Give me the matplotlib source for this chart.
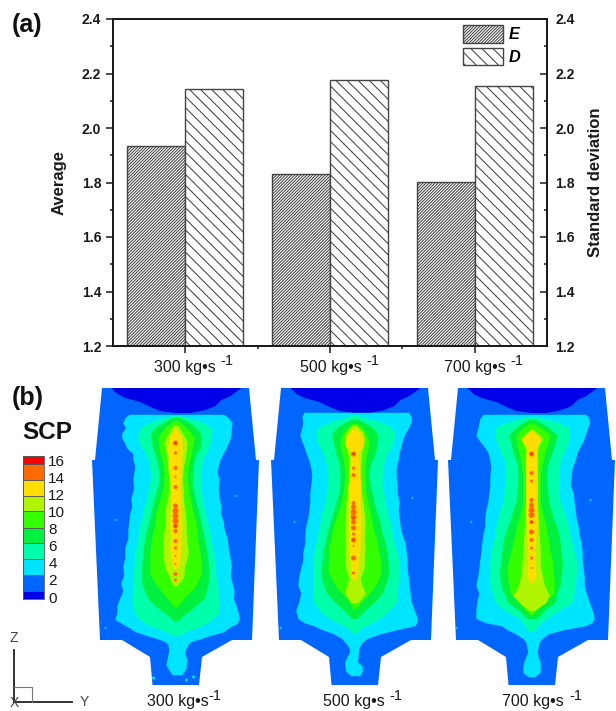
import matplotlib
matplotlib.use("Agg")
import numpy as np
import matplotlib.pyplot as plt

plt.rcParams['font.family'] = ['Liberation Sans', 'DejaVu Sans']
plt.rcParams['hatch.linewidth'] = 0.75
plt.rcParams['hatch.color'] = '#333333'

W, H = 616, 711
INK = '#1a1a1a'

# panel (a)
rate_names = ['300 kg•s', '500 kg•s', '700 kg•s']
E_vals = [1.935, 1.830, 1.802]
D_vals = [2.143, 2.175, 2.153]
y_ticks = [1.2, 1.4, 1.6, 1.8, 2.0, 2.2, 2.4]

# panel (b) colour scale
cbar_edges = [-0.23, 0.7, 2.57, 4.44, 6.3, 8.06, 10.05, 11.8, 13.67, 15.5, 16.47]
cbar_ticks = [0, 2, 4, 6, 8, 10, 12, 14, 16]
cbar_colors = ['#0000e6', '#0066ff', '#00e5ff', '#00ffaa', '#00f040',
               '#33ff00', '#b0f500', '#ffdd00', '#ff6a00', '#ff0000']

# vessel outline: offset from centre, depth from top (px of the picture)
shell_y = [-73.5, -80.5, -83.5, -75.5, -53.5, -25.5, -23, 23.5, 26.5, 56.5, 76.5, 83.5, 80.5, 73.5]
shell_z = [0, 72, 72, 252, 252, 269, 297, 297, 269, 252, 252, 72, 72, 0]

# low value cap at the top
cap_y = [-64, -58, -50, -35, -25, -15, 0, 15, 30, 40, 46, 55, 66]
cap_z = [0, 6, 10, 14, 19, 23, 25, 25, 22, 18, 12, 8, 0]

# contour bands, each row is depth, left half width, right half width
band_300 = {
    '#00e5ff': [(27, 46, 48), (30, 50, 52), (35, 52, 56), (40, 49, 55), (45, 53, 55), (50, 53, 54), (55, 50, 52),
                (60, 48, 50), (65, 42, 47), (71, 42, 44), (78, 40, 42), (85, 41, 41), (92, 42, 43), (100, 41, 42),
                (110, 44, 43), (118, 43, 45), (125, 45, 44), (133, 46, 47), (142, 47, 48), (150, 47, 51), (160, 50, 52),
                (170, 50, 54), (178, 52, 55), (187, 51, 54), (195, 54, 56), (203, 52, 58), (210, 55, 57), (218, 58, 60),
                (225, 58, 62), (231, 60, 63), (235, 53, 61), (239, 46, 53), (243, 40, 48), (247, 28, 34), (250, 18, 25),
                (253, 10, 15), (256, 7, 12), (262, 6, 9), (267, 7, 9), (272, 8, 11), (276, 9, 10), (280, 7, 10), (286, 3, 6)],
    '#00ffaa': [(28, 3, 3), (33, 20, 22), (37, 30, 31), (42, 36, 36), (48, 37, 35), (55, 36, 34), (62, 31, 31),
                (70, 27, 27), (80, 25, 25), (90, 24, 24), (100, 26, 25), (110, 28, 26), (120, 31, 28), (130, 33, 30),
                (140, 36, 33), (150, 37, 35), (160, 39, 36), (170, 40, 38), (180, 41, 39), (190, 42, 40), (200, 42, 42),
                (210, 43, 42), (218, 42, 43), (225, 40, 42), (230, 36, 37), (235, 30, 30), (239, 21, 21), (242, 12, 12), (247, 2, 2)],
    '#00f040': [(30, 3, 3), (35, 12, 14), (40, 20, 20), (45, 24, 24), (52, 24, 25), (60, 22, 24), (66, 20, 20),
                (72, 18, 18), (83, 16, 17), (95, 16, 16), (105, 19, 18), (115, 22, 20), (125, 24, 23), (135, 26, 25),
                (145, 29, 27), (155, 31, 29), (165, 32, 31), (175, 33, 32), (185, 33, 33), (195, 33, 32), (203, 30, 30),
                (210, 27, 28), (216, 21, 21), (222, 14, 14), (227, 7, 7), (232, 2, 2)],
    '#33ff00': [(33, 2, 2), (40, 10, 10), (45, 14, 15), (50, 17, 18), (57, 16, 17), (65, 15, 15), (75, 12, 13),
                (85, 11, 11), (95, 11, 12), (105, 13, 13), (115, 16, 15), (125, 19, 17), (135, 20, 20), (145, 22, 21),
                (155, 24, 22), (165, 25, 24), (175, 25, 25), (185, 25, 25), (193, 21, 22), (200, 16, 18), (206, 11, 11),
                (212, 6, 6), (218, 1, 1)],
    '#b0f500': [(38, 2, 2), (45, 6, 6), (50, 9, 9), (55, 11, 11), (62, 9, 10), (70, 8, 9), (80, 7, 7), (90, 6, 6),
                (100, 6, 7), (110, 7, 7), (118, 9, 8), (125, 10, 9), (135, 10, 10), (145, 11, 10), (155, 12, 11),
                (165, 12, 12), (173, 11, 10), (180, 10, 8), (185, 7, 8), (190, 5, 7), (197, 2, 1)],
    '#ffdd00': [(42, 1, 1), (50, 5, 5), (55, 6, 6), (60, 7, 6), (75, 6, 5), (87, 5, 4), (100, 4, 4), (110, 4, 5), (120, 4, 4),
                (130, 5, 5), (140, 5, 5), (150, 4, 4), (160, 5, 5), (168, 4, 4), (175, 3, 3), (180, 1, 1)],
}
band_500 = {
    '#00e5ff': [(25, 50, 54), (29, 52, 56), (34, 51, 56), (40, 52, 53), (47, 54, 49), (53, 52, 47), (58, 50, 46),
                (64, 48, 44), (72, 45, 43), (80, 43, 41), (88, 42, 41), (97, 43, 42), (105, 44, 42), (114, 44, 44),
                (122, 45, 43), (130, 46, 44), (138, 48, 45), (147, 49, 47), (155, 49, 50), (164, 51, 51), (172, 51, 52),
                (180, 53, 52), (188, 55, 53), (197, 56, 54), (205, 53, 55), (214, 55, 56), (222, 58, 59), (230, 56, 62),
                (234, 50, 62), (237, 41, 60), (241, 32, 42), (245, 21, 26), (250, 12, 12), (254, 9, 7), (259, 5, 4),
                (264, 4, 3), (269, 7, 3), (274, 9, 2), (278, 9, 7), (283, 8, 7), (287, 3, 5)],
    '#00ffaa': [(28, 3, 3), (34, 22, 24), (38, 32, 34), (43, 38, 39), (49, 37, 39), (55, 36, 38), (62, 32, 34),
                (70, 29, 30), (78, 27, 28), (85, 26, 27), (92, 26, 27), (100, 27, 27), (107, 28, 29), (115, 29, 30),
                (125, 32, 32), (135, 34, 35), (145, 36, 37), (155, 38, 39), (165, 40, 42), (175, 41, 44), (185, 41, 44),
                (195, 41, 43), (205, 41, 42), (215, 40, 41), (222, 34, 34), (230, 25, 25), (235, 15, 15), (240, 6, 6), (245, 1, 1)],
    '#00f040': [(32, 3, 3), (38, 15, 15), (43, 20, 20), (48, 22, 23), (56, 20, 22), (65, 18, 20), (75, 15, 16),
                (85, 14, 14), (95, 14, 15), (105, 15, 17), (115, 18, 19), (125, 21, 22), (135, 24, 25), (145, 27, 27),
                (155, 29, 30), (165, 31, 32), (175, 32, 33), (185, 33, 34), (195, 31, 31), (205, 27, 27), (213, 20, 20),
                (220, 12, 12), (225, 7, 7), (230, 2, 2)],
    '#33ff00': [(36, 2, 2), (40, 7, 7), (45, 11, 11), (50, 13, 13), (55, 14, 14), (65, 12, 12), (75, 10, 10), (87, 9, 10),
                (100, 10, 10), (110, 12, 12), (120, 14, 14), (130, 18, 16), (140, 21, 18), (150, 23, 21), (160, 25, 23),
                (170, 25, 25), (180, 26, 26), (190, 23, 24), (198, 18, 20), (205, 12, 14), (212, 6, 8), (220, 1, 1)],
    '#b0f500': [(38, 2, 2), (45, 8, 8), (50, 9, 9), (55, 9, 9), (62, 7, 7), (70, 5, 6), (85, 5, 5), (100, 5, 5), (115, 8, 8),
                (125, 8, 9), (135, 9, 10), (148, 9, 9), (160, 9, 10), (170, 9, 9), (180, 8, 9), (190, 5, 5), (198, 7, 7),
                (205, 9, 10), (214, 3, 3)],
    '#ffdd00': [(42, 2, 2), (48, 7, 7), (53, 8, 8), (57, 8, 8), (61, 5, 5), (65, 3, 3), (80, 4, 4), (90, 5, 5), (100, 6, 6),
                (110, 5, 5), (120, 5, 5), (130, 5, 6), (140, 5, 6), (150, 5, 5), (160, 5, 5), (175, 3, 3), (190, 2, 2)],
}
band_700 = {
    '#00e5ff': [(27, 48, 54), (31, 51, 57), (35, 52, 57), (41, 53, 55), (47, 55, 53), (53, 51, 51), (58, 47, 48),
                (64, 43, 45), (72, 41, 43), (80, 40, 40), (88, 41, 39), (97, 41, 38), (105, 42, 41), (114, 43, 42),
                (122, 45, 43), (130, 46, 44), (138, 46, 46), (147, 48, 47), (155, 49, 49), (164, 50, 50), (172, 51, 50),
                (180, 52, 51), (188, 53, 52), (197, 55, 52), (205, 52, 54), (214, 54, 57), (222, 55, 60), (230, 55, 62),
                (234, 46, 60), (237, 30, 54), (241, 24, 32), (245, 16, 17), (250, 8, 10), (254, 5, 7), (259, 4, 6),
                (264, 3, 5), (269, 5, 6), (274, 7, 8), (279, 8, 8), (284, 8, 8), (288, 3, 3)],
    '#00ffaa': [(29, 3, 3), (35, 25, 27), (40, 36, 37), (47, 36, 37), (55, 34, 36), (62, 31, 33), (70, 27, 29),
                (80, 25, 27), (88, 25, 27), (97, 26, 27), (105, 27, 27), (114, 28, 28), (122, 31, 31), (130, 33, 34),
                (138, 35, 36), (147, 36, 38), (155, 38, 40), (164, 40, 42), (172, 41, 44), (180, 41, 45), (188, 41, 44),
                (197, 41, 43), (205, 38, 42), (214, 36, 40), (222, 26, 27), (230, 12, 14), (236, 7, 7), (243, 3, 2)],
    '#00f040': [(32, 3, 3), (38, 13, 14), (47, 22, 25), (55, 20, 23), (64, 18, 20), (72, 15, 17), (80, 13, 15), (88, 13, 15),
                (97, 13, 15), (105, 14, 16), (114, 15, 17), (122, 18, 19), (130, 20, 21), (138, 23, 24), (147, 26, 27),
                (155, 28, 28), (164, 29, 29), (172, 30, 30), (180, 31, 30), (188, 31, 29), (197, 30, 28), (205, 27, 25),
                (214, 23, 23), (222, 12, 12), (230, 4, 5)],
    '#33ff00': [(36, 2, 2), (41, 9, 10), (47, 15, 18), (55, 14, 16), (64, 12, 13), (72, 10, 11), (80, 9, 9), (88, 8, 8), (97, 8, 8),
                (105, 8, 8), (114, 8, 8), (122, 10, 10), (130, 12, 12), (138, 14, 14), (147, 16, 15), (155, 18, 17),
                (164, 20, 18), (172, 22, 20), (180, 24, 21), (192, 23, 22), (204, 21, 22), (212, 14, 14), (220, 7, 6), (226, 1, 1)],
    '#b0f500': [(42, 1, 1), (46, 6, 6), (50, 10, 10), (57, 7, 7), (64, 5, 5), (80, 5, 5), (97, 5, 5), (114, 5, 5), (130, 6, 6),
                (147, 7, 7), (162, 8, 8), (177, 9, 8), (187, 10, 10), (197, 12, 12), (203, 15, 15), (207, 18, 17), (214, 12, 14),
                (218, 7, 8), (222, 2, 2)],
    '#ffdd00': [(44, 1, 1), (48, 5, 5), (52, 9, 9), (55, 6, 6), (59, 4, 4), (70, 5, 5), (80, 5, 5), (95, 5, 5), (107, 5, 5),
                (125, 5, 5), (147, 4, 4), (164, 3, 3), (176, 3, 3), (187, 4, 4), (194, 1, 1)],
}

# hot spots along the axis: depth, offset, size
spots_300 = [(55, 0, 5), (65, 0, 3), (80, 0, 4), (89, 0, 2), (99, 0, 4), (118, 0, 5), (123, 0, 6), (128, 0, 6),
             (133, 0, 6), (138, 0, 5), (143, 0, 4), (153, 0, 4), (160, 0, 3), (168, 0, 2), (176, 0, 2), (186, 0, 4), (192, 0, 3)]
spots_500 = [(66, -1, 5), (80, -1, 3), (87, -1, 4), (115, -1, 4), (119, -1, 5), (124, -1, 6), (129, -1, 6),
             (134, -1, 5), (140, -1, 5), (146, -1, 3), (152, -1, 5), (158, -1, 2), (170, -1, 5), (185, -1, 3)]
spots_700 = [(66, 0, 5), (85, 0, 4), (93, 0, 3), (112, 0, 4), (117, 0, 5), (122, 0, 6), (127, 0, 6), (134, 0, 4),
             (144, 0, 5), (152, 0, 4), (160, 0, 3), (170, 0, 3), (180, 0, 2)]
red_300 = [(55, 0, 2), (138, 0, 2)]
red_500 = [(66, -1, 2), (130, -1, 2), (152, -1, 2)]
red_700 = [(66, 0, 2), (134, 0, 2)]

# small cyan flecks outside the main band: depth, offset, size
flecks_300 = [(240, -70, 2), (132, -60, 2), (108, 60, 2), (290, -22, 3), (292, 11, 3), (289, 18, 3)]
flecks_500 = [(134, -60, 2), (240, -74, 2), (110, 58, 2)]
flecks_700 = [(134, -60, 2), (112, 59, 2), (240, -75, 2)]

panels = [(175.5, band_300, spots_300, red_300, flecks_300), (354.5, band_500, spots_500, red_500, flecks_500),
          (531.5, band_700, spots_700, red_700, flecks_700)]


def px_axes(fig, left, top, right, bottom):
    return fig.add_axes([left / W, 1 - bottom / H, (right - left) / W, (bottom - top) / H])


fig = plt.figure(figsize=(W / 100, H / 100), dpi=100)

# bar chart
ax = px_axes(fig, 113, 19, 547, 346)
x = np.arange(1, 4)
width = 0.4
ax.bar(x - width / 2, E_vals, width, color='white', edgecolor='#444444', linewidth=1, hatch='/' * 11, label='E')
ax.bar(x + width / 2, D_vals, width, color='white', edgecolor='#444444', linewidth=1, hatch='\\' * 3, label='D')
ax.set_xlim(0.5, 3.5)
ax.set_ylim(1.2, 2.4)
ax.set_xticks(x)
ax.set_xticks([1.5, 2.5], minor=True)
ax.set_xticklabels([])
ax.set_yticks(y_ticks)
ax.set_yticks(np.arange(1.3, 2.4, 0.2), minor=True)
ax.set_yticklabels([f'{v:.1f}' for v in y_ticks], fontsize=10, fontweight='bold', color=INK)
ax.tick_params(axis='y', which='major', length=5, width=1.1, pad=3.5, color=INK)
ax.tick_params(axis='y', which='minor', length=2.5, width=1.1, color=INK)
ax.tick_params(axis='x', which='major', length=5, width=1.1, color=INK)
ax.tick_params(axis='x', which='minor', length=2.5, width=1.1, color=INK)
ax.set_ylabel('Average', fontsize=12, fontweight='bold', color=INK)
ax.yaxis.set_label_coords(-0.106, 0.5)
for s in ax.spines.values():
    s.set_linewidth(1.3)
    s.set_color(INK)

ax2 = ax.twinx()
ax2.set_ylim(1.2, 2.4)
ax2.set_yticks(y_ticks)
ax2.set_yticks(np.arange(1.3, 2.4, 0.2), minor=True)
ax2.set_yticklabels([f'{v:.1f}' for v in y_ticks], fontsize=10, fontweight='bold', color=INK)
ax2.tick_params(axis='y', which='major', length=5, width=1.1, direction='in', pad=5.8, color=INK)
ax2.tick_params(axis='y', which='minor', length=2.5, width=1.1, direction='in', color=INK)
ax2.set_ylabel('Standard deviation', fontsize=12, fontweight='bold', color=INK)
ax2.yaxis.set_label_coords(1.094, 0.5)
for s in ax2.spines.values():
    s.set_linewidth(1.3)
    s.set_color(INK)

leg = ax.legend(loc='upper left', bbox_to_anchor=(463 / W, 1 - 25 / H), bbox_transform=fig.transFigure,
                frameon=False, borderpad=0, borderaxespad=0, handlelength=2.46, handleheight=1.3,
                labelspacing=0.3, handletextpad=0.37, prop={'size': 11.7, 'style': 'italic', 'weight': 'bold'})

# contour panels
for cx, bands, spots, reds, flecks in panels:
    a = px_axes(fig, cx - 85, 388, cx + 85, 388 + 298)
    a.set_xlim(-85, 85)
    a.set_ylim(298, 0)
    a.axis('off')
    a.fill(shell_y, shell_z, color='#0066ff', lw=0)
    a.fill(cap_y, cap_z, color='#0000e6', lw=0)
    f = np.array(flecks)
    a.scatter(f[:, 1], f[:, 0], s=(f[:, 2] * 0.72) ** 2, color='#00e5ff', lw=0)
    for col, rows in bands.items():
        rows = np.array(rows)
        a.fill_betweenx(rows[:, 0], -rows[:, 1], rows[:, 2], color=col, lw=1, joinstyle='round')
    s = np.array(spots)
    a.scatter(s[:, 1], s[:, 0], s=(s[:, 2] * 0.72) ** 2, color='#ff6a00', lw=0)
    r = np.array(reds)
    a.scatter(r[:, 1], r[:, 0], s=(r[:, 2] * 0.72) ** 2, color='#f02000', lw=0)

# colour scale
cax = px_axes(fig, 23, 456, 44, 599)
cax.set_xlim(0, 1)
cax.set_ylim(cbar_edges[0], cbar_edges[-1])
cax.bar(0.5, np.diff(cbar_edges), 1, bottom=cbar_edges[:-1], color=cbar_colors, edgecolor='#555555', linewidth=0.6)
cax.set_xticks([])
cax.yaxis.tick_right()
cax.set_yticks(cbar_ticks)
cax.set_yticklabels([str(v) for v in cbar_ticks], fontsize=11, color=INK)
cax.tick_params(axis='y', length=0, pad=3)
for s in cax.spines.values():
    s.set_linewidth(0.6)
    s.set_color('#555555')

# labels and axis triad on a full figure layer
top = fig.add_axes([0, 0, 1, 1])
top.set_xlim(0, W)
top.set_ylim(H, 0)
top.axis('off')
top.patch.set_alpha(0)
top.text(12, 32, '(a)', fontsize=18, fontweight='bold', va='baseline', color='#111111')
top.text(12, 405, '(b)', fontsize=18, fontweight='bold', va='baseline', color='#111111')
top.text(22, 439, 'SCP', fontsize=17.5, fontweight='bold', va='baseline', color='#111111')

for name, x0, x1 in zip(rate_names, [154, 300, 444], [220, 366, 510]):
    top.text(x0, 372, name, fontsize=11.5, va='baseline', color=INK)
    top.text(x1, 365, '-1', fontsize=10.5, va='baseline', color=INK)
for name, x0, x1 in zip(rate_names, [147, 323, 502], [208, 389, 569]):
    top.text(x0, 706, name, fontsize=11.5, va='baseline', color=INK)
    top.text(x1, 700, '-1', fontsize=10.5, va='baseline', color=INK)

top.plot([14, 14], [650, 702], color='#222222', lw=1.3)
top.plot([14, 72], [702, 702], color='#222222', lw=1.3)
top.plot([14, 32, 32], [687, 687, 702], color='#777777', lw=0.8)
top.text(14, 638, 'Z', fontsize=10, color='#444444', ha='center', va='center')
top.text(84, 702, 'Y', fontsize=10, color='#444444', ha='center', va='center')
top.text(14, 703, 'X', fontsize=10, color='#444444', ha='center', va='center')

plt.savefig('out.png', dpi=100)
